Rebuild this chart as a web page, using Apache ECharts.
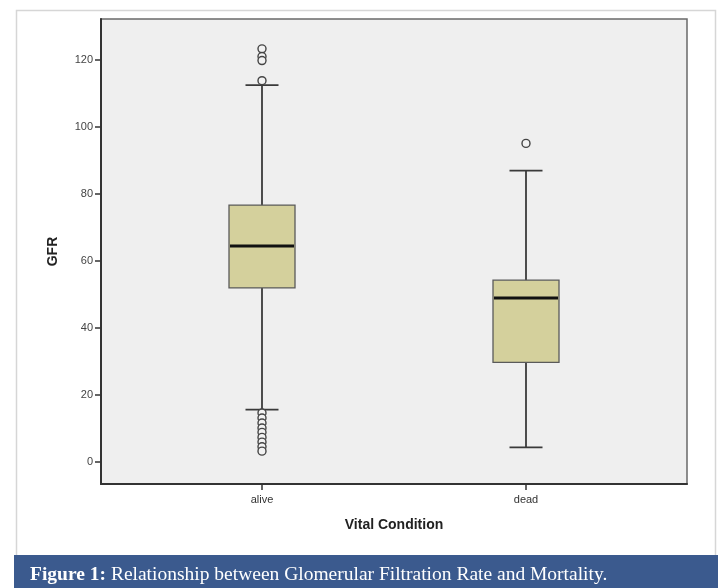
<!DOCTYPE html>
<html>
<head>
<meta charset="utf-8">
<script src="https://cdn.jsdelivr.net/npm/echarts@6/dist/echarts.min.js"></script>
<style>
html,body{margin:0;padding:0;background:#fff;}
#chart{width:718px;height:588px;}
</style>
</head>
<body>
<div id="chart"></div>
<script>
// ---- data ----
var categories = ['alive', 'dead'];
var whiskerLow  = [15.7, 4.4];
var q1          = [52.0, 29.8];
var median      = [64.5, 49.0];
var q3          = [76.7, 54.3];
var whiskerHigh = [112.5, 87.0];
var outliersAlive = [123.3, 121.0, 119.8, 113.8, 14.7, 13.2, 11.7, 10.2, 8.9, 7.4, 6.0, 4.6, 3.3];
var outliersDead  = [95.1];
var yTicks = [0, 20, 40, 60, 80, 100, 120];
var yMin = -6.5, yMax = 132.2;
var captionLabel = 'Figure 1:';
var captionText = ' Relationship between Glomerular Filtration Rate and Mortality.';

// ---- build series data ----
var boxData = categories.map(function (c, i) {
  return [i, whiskerLow[i], q1[i], median[i], q3[i], whiskerHigh[i]];
});
var outlierData = [];
outliersAlive.forEach(function (v) { outlierData.push([0, v]); });
outliersDead.forEach(function (v) { outlierData.push([1, v]); });

var chart = echarts.init(document.getElementById('chart'), null, {renderer: 'canvas'});
var font = 'Liberation Sans, Arial, sans-serif';
var serif = 'Liberation Serif, DejaVu Serif, serif';

function renderBox(params, api) {
  var x = api.value(0);
  var band = api.size([1, 0])[0];
  var boxW = band * 0.25;
  var capW = boxW * 0.5;
  var pLo = api.coord([x, api.value(1)]);
  var pQ1 = api.coord([x, api.value(2)]);
  var pMed = api.coord([x, api.value(3)]);
  var pQ3 = api.coord([x, api.value(4)]);
  var pHi = api.coord([x, api.value(5)]);
  var cx = pMed[0];
  var lineStyle = {stroke: '#3a3a3a', lineWidth: 1.8};
  return {
    type: 'group',
    children: [
      {type: 'line', shape: {x1: cx, y1: pHi[1], x2: cx, y2: pQ3[1]}, style: lineStyle},
      {type: 'line', shape: {x1: cx, y1: pQ1[1], x2: cx, y2: pLo[1]}, style: lineStyle},
      {type: 'line', shape: {x1: cx - capW / 2, y1: pHi[1], x2: cx + capW / 2, y2: pHi[1]}, style: lineStyle},
      {type: 'line', shape: {x1: cx - capW / 2, y1: pLo[1], x2: cx + capW / 2, y2: pLo[1]}, style: lineStyle},
      {type: 'rect', shape: {x: cx - boxW / 2, y: pQ3[1], width: boxW, height: pQ1[1] - pQ3[1]},
        style: {fill: '#d4d09c', stroke: '#5a5a5a', lineWidth: 1.3}},
      {type: 'line', shape: {x1: cx - boxW / 2 + 1, y1: pMed[1], x2: cx + boxW / 2 - 1, y2: pMed[1]},
        style: {stroke: '#111', lineWidth: 3}}
    ]
  };
}

chart.setOption({
  animation: false,
  backgroundColor: '#ffffff',
  title: {
    left: 25, top: 560,
    text: '{b|' + captionLabel + '}{n|' + captionText + '}',
    textStyle: {
      rich: {
        b: {fontFamily: serif, fontWeight: 'bold', fontSize: 19.5, color: '#ffffff'},
        n: {fontFamily: serif, fontWeight: 'normal', fontSize: 19.5, color: '#ffffff'}
      }
    }
  },
  graphic: [
    {type: 'rect', left: 14, top: 8, shape: {width: 699, height: 560}, style: {fill: 'none', stroke: '#d6d6d6', lineWidth: 1.5}, z: 0},
    {type: 'rect', left: 14, top: 555, shape: {width: 704, height: 33}, style: {fill: '#3b5a8e'}, z: 1}
  ],
  grid: [
    {left: 101, right: 31, top: 19, bottom: 104, show: true, backgroundColor: '#efefef', borderColor: '#6a6a6a', borderWidth: 1.5},
    {left: 130, right: 60, top: 19, bottom: 104}
  ],
  xAxis: [
    {gridIndex: 0, type: 'value', min: 0, max: 1,
      axisLine: {show: true, onZero: false, lineStyle: {color: '#333', width: 2}},
      axisTick: {show: false}, axisLabel: {show: false}, splitLine: {show: false}},
    {gridIndex: 1, type: 'category', data: categories, boundaryGap: true, position: 'bottom',
      axisLine: {show: false, onZero: false},
      axisTick: {show: true, alignWithLabel: true, length: 6, lineStyle: {color: '#333', width: 1.5}},
      axisLabel: {show: true, margin: 10, fontSize: 11, color: '#333', fontFamily: font},
      name: 'Vital Condition', nameLocation: 'middle', nameGap: 34,
      nameTextStyle: {fontSize: 14, fontWeight: 'bold', color: '#222', fontFamily: font},
      splitLine: {show: false}}
  ],
  yAxis: [
    {gridIndex: 0, type: 'value', min: yMin, max: yMax,
      axisLine: {show: true, onZero: false, lineStyle: {color: '#333', width: 2}},
      axisTick: {show: true, length: 6, customValues: yTicks, lineStyle: {color: '#333', width: 1.5}},
      axisLabel: {show: true, margin: 8, customValues: yTicks, fontSize: 11, color: '#444', fontFamily: font},
      splitLine: {show: false},
      name: 'GFR', nameLocation: 'middle', nameGap: 41, nameRotate: 90,
      nameTextStyle: {fontSize: 14, fontWeight: 'bold', color: '#222', fontFamily: font}},
    {gridIndex: 1, type: 'value', min: yMin, max: yMax, show: false, splitLine: {show: false}}
  ],
  series: [
    {type: 'custom', xAxisIndex: 1, yAxisIndex: 1, data: boxData,
      encode: {x: 0, y: [1, 2, 3, 4, 5]}, renderItem: renderBox, z: 3},
    {type: 'scatter', xAxisIndex: 1, yAxisIndex: 1, data: outlierData,
      symbol: 'circle', symbolSize: 8,
      itemStyle: {color: '#f2f2f2', borderColor: '#444', borderWidth: 1.4, opacity: 1}, z: 4}
  ]
});
</script>
</body>
</html>
